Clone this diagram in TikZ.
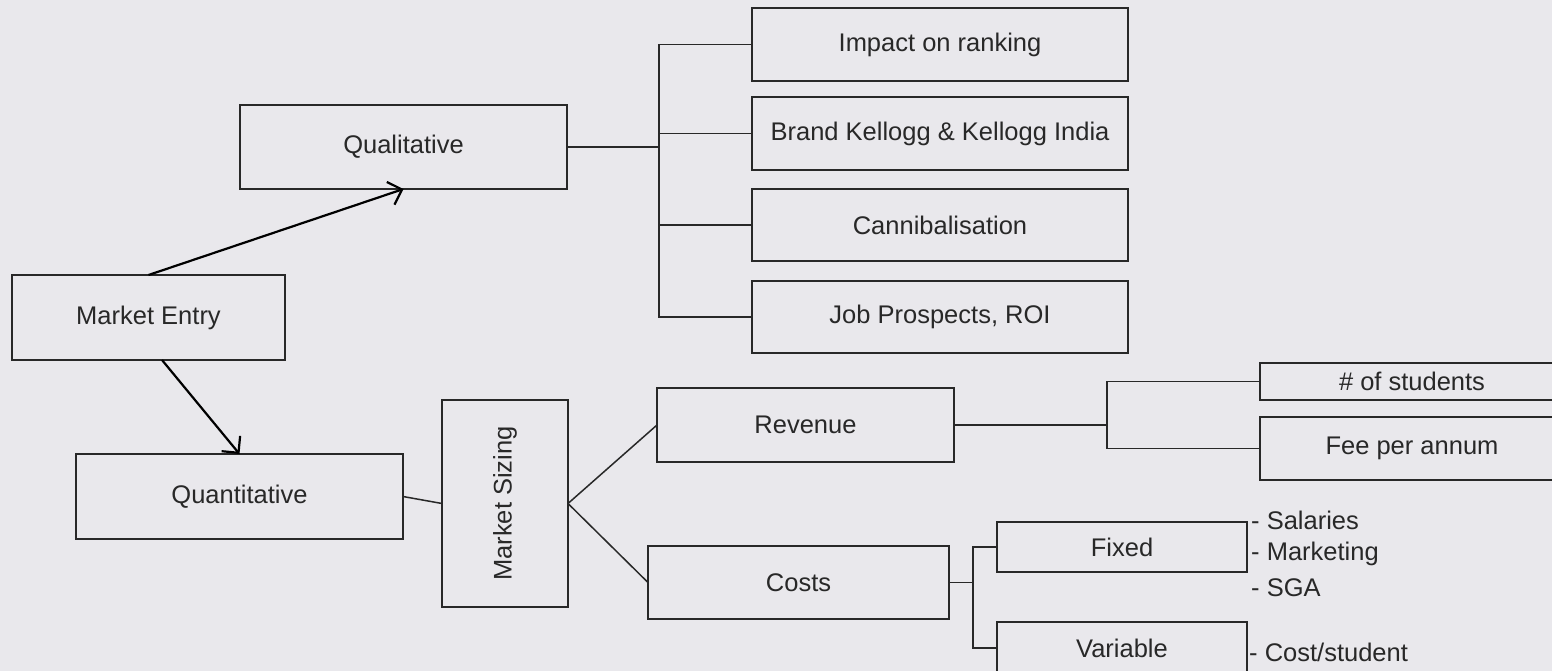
\documentclass[tikz,border=0pt]{standalone}
\usepackage{fontspec}
\setmainfont{Liberation Sans}
\usetikzlibrary{arrows.meta,calc}
\definecolor{bg}{RGB}{233,232,236}
\definecolor{ink}{RGB}{40,40,40}
\definecolor{edge}{RGB}{40,40,40}
\tikzset{
  box/.style={draw=edge, line width=1.5pt, fill=none, inner sep=0pt, outer sep=0pt,
    text=ink, font=\fontsize{25.5}{30}\selectfont, align=center},
  conn/.style={draw=edge, line width=1.5pt},
  arr/.style={draw=black, line width=2.2pt, -{Straight Barb[length=12pt,width=24pt,line width=2.2pt]}},
  note/.style={anchor=west, inner sep=0pt, text=ink, font=\fontsize{25.5}{30}\selectfont}
}
\begin{document}
\begin{tikzpicture}[x=1pt,y=-1pt]
\useasboundingbox (0,0) rectangle (1552,671);
\fill[bg] (0,0) rectangle (1552,671);
\clip (0,0) rectangle (1552,671);
% nodes
\node[box, minimum width=273pt, minimum height=85pt] (me) at (148.5,317.5) {Market Entry};
\node[box, minimum width=327pt, minimum height=84pt] (ql) at (403.5,147) {Qualitative};
\node[box, minimum width=327pt, minimum height=85pt] (qn) at (239.5,496.5) {Quantitative};
\node[box, minimum width=126pt, minimum height=207pt] (ms) at (505,503.5) {\rotatebox{90}{Market Sizing}};
\node[box, minimum width=376pt, minimum height=73pt] (im) at (940,44.5) {Impact on ranking};
\node[box, minimum width=376pt, minimum height=73pt] (br) at (940,133.5) {Brand Kellogg \& Kellogg India};
\node[box, minimum width=376pt, minimum height=72pt] (ca) at (940,225) {Cannibalisation};
\node[box, minimum width=376pt, minimum height=72pt] (jp) at (940,317) {Job Prospects, ROI};
\node[box, minimum width=297pt, minimum height=74pt] (rev) at (805.5,425) {Revenue};
\node[box, minimum width=301pt, minimum height=73pt] (cost) at (798.5,582.5) {Costs};
\node[box, minimum width=250pt, minimum height=50pt] (fix) at (1122,547) {Fixed};
\node[box, minimum width=250pt, minimum height=60pt] (var) at (1122,652) {};
\node[text=ink, font=\fontsize{25.5}{30}\selectfont, inner sep=0pt] (vart) at (1122,648) {Variable};
\node[box, minimum width=304pt, minimum height=37pt] (ns) at (1412,381.5) {\# of students};
\node[box, minimum width=304pt, minimum height=63pt] (fee) at (1412,448.5) {Fee per annum};
% notes
\node[note] (n1) at (1251,520) {- Salaries};
\node[note] (n2) at (1251,554) {- Marketing};
\node[note] (n3) at (1251,588) {- SGA};
\node[note] (n4) at (1249,652) {- Cost/student};
% arrows
\draw[arr] (me.north) -- (ql.south);
\draw[arr] ($(me.south)+(13.5,0)$) -- (qn.north);
% connectors
\draw[conn] (qn.east) -- (ms.west);
\draw[conn] (ms.east) -- (rev.west);
\draw[conn] (ms.east) -- (cost.west);
% qualitative tree
\coordinate (b1) at (659,147);
\draw[conn] (ql.east) -- (b1);
\draw[conn] (im.west) -- (im.west -| b1) -- (jp.west -| b1) -- (jp.west);
\draw[conn] (br.west) -- (br.west -| b1);
\draw[conn] (ca.west) -- (ca.west -| b1);
% revenue tree
\coordinate (b2) at (1107,425);
\draw[conn] (rev.east) -- (b2);
\draw[conn] (ns.west) -- (ns.west -| b2) -- (fee.west -| b2) -- (fee.west);
% cost tree
\coordinate (b3) at (973,582.5);
\draw[conn] (cost.east) -- (b3);
\draw[conn] (fix.west) -- (fix.west -| b3) -- (vart.west -| b3) -- (vart.west -| var.west);
\end{tikzpicture}
\end{document}
